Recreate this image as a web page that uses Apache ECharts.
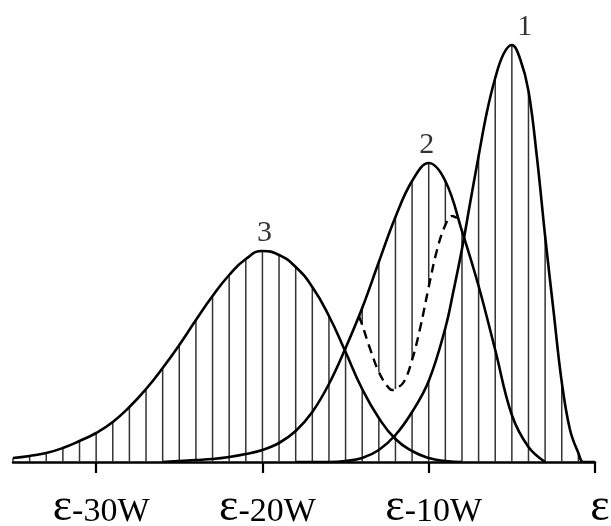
<!DOCTYPE html>
<html>
<head>
<meta charset="utf-8">
<script src="https://cdn.jsdelivr.net/npm/echarts@6/dist/echarts.min.js"></script>
<style>
html,body{margin:0;padding:0;background:#fff;}
#chart{width:611px;height:526px;}
</style>
</head>
<body>
<div id="chart"></div>
<script>
// ---- data (x in units of W relative to ε, y = relative intensity) ----
const tickValues = [-30, -20, -10, 0];
const tickLabels = ['ε-30W', 'ε-20W', 'ε-10W', 'ε'];

const c1X = [-18,-17,-16,-15,-14,-13,-12,-11,-10,-9,-8.5,-8,-7.5,-7,-6.5,-6,-5.5,-5,-4.5,-4,-3.5,-3,-2.5,-2,-1.5,-1,-0.7,0];
const c1Y = [0,0,0,1,4,12,27,50,81,134,172,213,260,306,350,384,408,417,403,371,306,226,152,80,32,9,0,0];

const c2X = [-26,-25,-24,-23,-22,-21,-20,-19,-18,-17,-16,-15,-14,-13,-12,-11,-10,-9,-8,-7,-6,-5,-4,-3];
const c2Y = [0,1,2,3,5,8,12,19,31,50,78,114,154,200,245,281,299,281,231,176,112,47,15,0];

const c3X = [-35,-34,-33,-32,-31,-30,-29,-28,-27,-26,-25,-24,-23,-22,-21,-20,-19,-18,-17,-16,-15,-14,-13,-12,-11,-10,-9,-8];
const c3Y = [4,6,9,14,21,29,40,55,73,94,117,142,166,187,203,211,207,195,175,146,110,73,44,23,11,4,1,0];

const dashX = [-14.2,-14,-13.5,-13,-12.5,-12.2,-12,-11.5,-11,-10.5,-10,-9.5,-9,-8.6,-8.3];
const dashY = [146,137,112,90,76,72,73,80,102,135,175,212,237,246,244];

const hatchX = [-35,-34,-33,-32,-31,-30,-29,-28,-27,-26,-25,-24,-23,-22,-21,-20,-19,-18,-17,-16,-15,-14,-13,-12,-11,-10,-9,-8,-7,-6,-5,-4,-3,-2,-1];

const peakNames = ['1', '2', '3'];
const peakX = [-5, -10, -20];
const peakY = [417, 299, 211];

// ---- helpers ----
function pairs(xs, ys){ return xs.map((x,i)=>[x, ys[i]]); }
function at(xs, ys, w){ const i = xs.indexOf(w); return i < 0 ? null : ys[i]; }
function v(xs, ys, w){ const r = at(xs, ys, w); return r === null ? 0 : r; }

const hatchSegs = [];
hatchX.forEach(w => {
  const a = v(c1X,c1Y,w), b = v(c2X,c2Y,w), c = v(c3X,c3Y,w);
  const d = at(dashX, dashY, w);
  if (d !== null) {
    hatchSegs.push([w, 0, Math.max(a, c)]);
    hatchSegs.push([w, d, b]);
  } else {
    hatchSegs.push([w, 0, Math.max(a, b, c)]);
  }
});

const labelOffsets = [[13, 0], [-2, 0], [2, 0]];

const curveStyle = { color: '#000', width: 2.6 };

const chart = echarts.init(document.getElementById('chart'), null, {renderer: 'canvas'});
chart.setOption({
  animation: false,
  backgroundColor: '#fff',
  grid: { left: 13, right: 16, top: 12, bottom: 64, containLabel: false, outerBoundsMode: 'none' },
  xAxis: {
    type: 'value', min: -35, max: 0,
    splitLine: { show: false },
    axisLine: { show: true, onZero: false, lineStyle: { color: '#000', width: 2.6 } },
    axisTick: { show: true, customValues: tickValues, length: 11, inside: false, lineStyle: { color: '#000', width: 2.2 } },
    axisLabel: {
      show: true, customValues: tickValues, margin: 24,
      formatter: function(val){
        const i = tickValues.indexOf(val);
        if (i < 0) return '';
        const s = tickLabels[i];
        return '{e|' + s.charAt(0) + '}' + (s.length > 1 ? '{t|' + s.slice(1) + '}' : '');
      },
      rich: {
        e: { fontFamily: 'Liberation Serif', fontSize: 46, color: '#000', height: 44, lineHeight: 44, verticalAlign: 'bottom' },
        t: { fontFamily: 'Liberation Serif', fontSize: 34, color: '#000', height: 36, lineHeight: 44, verticalAlign: 'bottom' }
      },
      padding: [0, 0, 0, 10]
    }
  },
  yAxis: { type: 'value', min: 0, max: 450, show: false },
  series: [
    {
      type: 'custom', z: 1,
      data: hatchSegs,
      renderItem: function(params, api){
        const p0 = api.coord([api.value(0), api.value(1)]);
        const p1 = api.coord([api.value(0), api.value(2)]);
        return { type: 'line', shape: { x1: p0[0], y1: p0[1], x2: p1[0], y2: p1[1] },
                 style: { stroke: '#333', lineWidth: 1.5 } };
      }
    },
    { type: 'line', z: 3, data: pairs(c3X, c3Y), smooth: 0.5, showSymbol: false, lineStyle: curveStyle },
    { type: 'line', z: 3, data: pairs(c2X, c2Y), smooth: 0.4, showSymbol: false, lineStyle: curveStyle },
    { type: 'line', z: 3, data: pairs(c1X, c1Y), smooth: 0.4, showSymbol: false, lineStyle: curveStyle },
    { type: 'line', z: 3, data: pairs(dashX, dashY), smooth: 0.4, showSymbol: false,
      lineStyle: { color: '#000', width: 2.4, type: [9, 6] } },
    {
      type: 'scatter', z: 4, symbolSize: 0,
      data: peakX.map((x,i)=>({ value: [x, peakY[i]], name: peakNames[i],
        label: { offset: labelOffsets[i] } })),
      label: { show: true, position: 'top', distance: 3, formatter: '{b}',
               fontFamily: 'Liberation Serif', fontSize: 30, color: '#000' }
    }
  ]
});
</script>
</body>
</html>
